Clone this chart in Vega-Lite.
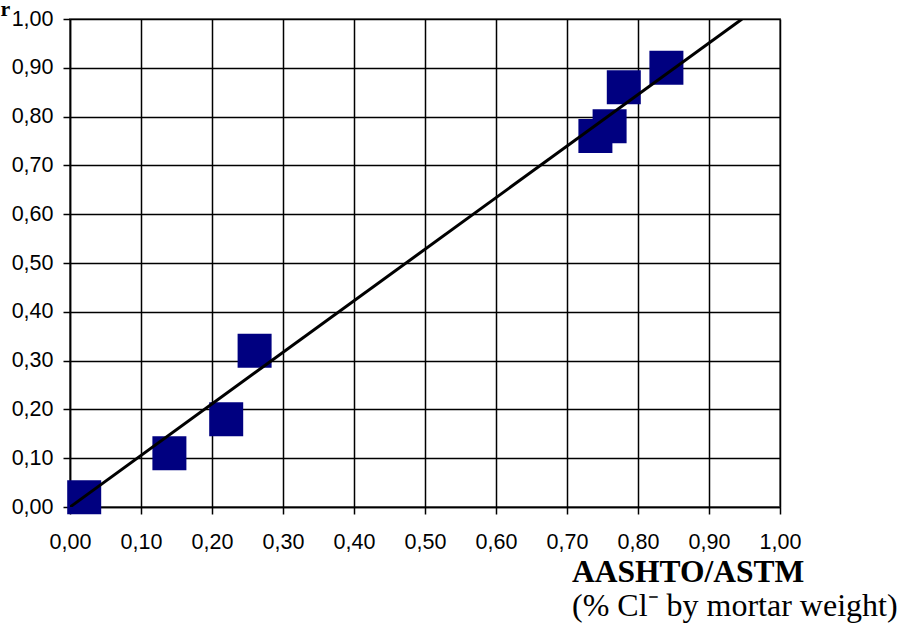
{
  "$schema": "https://vega.github.io/schema/vega-lite/v6.json",
  "width": 710,
  "height": 488,
  "autosize": {"type": "none"},
  "padding": {"left": 70, "top": 19, "right": 123, "bottom": 117},
  "background": "white",
  "config": {
    "view": {"stroke": "#808080", "strokeWidth": 2},
    "axis": {
      "domainColor": "black",
      "domainWidth": 1.5,
      "gridColor": "black",
      "gridWidth": 1.5,
      "gridOpacity": 1,
      "tickColor": "black",
      "tickWidth": 1.5,
      "tickSize": 7,
      "labelFont": "Liberation Sans",
      "labelFontSize": 21.5,
      "labelColor": "black",
      "labelFlush": false,
      "labelOverlap": false,
      "labelExpr": "replace(format(datum.value, '.2f'), '.', ',')"
    }
  },
  "title": {
    "text": "AASHTO/ASTM",
    "subtitle": "(% Cl⁻ by mortar weight)",
    "orient": "bottom",
    "anchor": "start",
    "align": "left",
    "frame": "group",
    "dx": 502,
    "offset": 4,
    "font": "Liberation Serif",
    "fontSize": 31.5,
    "fontWeight": "bold",
    "color": "black",
    "subtitleFont": "Liberation Serif",
    "subtitleFontSize": 32,
    "subtitleFontWeight": "normal",
    "subtitleColor": "black",
    "subtitlePadding": 3
  },
  "datasets": {
    "points": [
      {"aashto_astm": 0.02, "r": 0.02},
      {"aashto_astm": 0.14, "r": 0.11},
      {"aashto_astm": 0.22, "r": 0.18},
      {"aashto_astm": 0.26, "r": 0.32},
      {"aashto_astm": 0.74, "r": 0.76},
      {"aashto_astm": 0.76, "r": 0.78},
      {"aashto_astm": 0.78, "r": 0.86},
      {"aashto_astm": 0.84, "r": 0.90}
    ],
    "trend": [
      {"aashto_astm": 0.0, "r": 0.0},
      {"aashto_astm": 0.9466, "r": 1.0}
    ]
  },
  "layer": [
    {
      "data": {"name": "points"},
      "mark": {"type": "square", "color": "#000080", "size": 1156, "opacity": 1, "clip": false},
      "encoding": {
        "x": {
          "field": "aashto_astm",
          "type": "quantitative",
          "scale": {"domain": [0, 1], "nice": false, "zero": false},
          "axis": {"values": [0, 0.1, 0.2, 0.3, 0.4, 0.5, 0.6, 0.7, 0.8, 0.9, 1.0], "title": null, "labelPadding": 17, "labelBaseline": "top"}
        },
        "y": {
          "field": "r",
          "type": "quantitative",
          "scale": {"domain": [0, 1], "nice": false, "zero": false},
          "axis": {
            "values": [0, 0.1, 0.2, 0.3, 0.4, 0.5, 0.6, 0.7, 0.8, 0.9, 1.0],
            "labelPadding": 10,
            "title": "r",
            "titleFont": "Liberation Serif",
            "titleFontSize": 22,
            "titleFontWeight": "bold",
            "titleColor": "black",
            "titleAngle": 0,
            "titleAlign": "left",
            "titleBaseline": "alphabetic",
            "titleX": -70,
            "titleY": -4
          }
        }
      }
    },
    {
      "data": {"name": "trend"},
      "mark": {"type": "line", "color": "black", "strokeWidth": 3, "clip": true},
      "encoding": {
        "x": {"field": "aashto_astm", "type": "quantitative"},
        "y": {"field": "r", "type": "quantitative"}
      }
    }
  ]
}
